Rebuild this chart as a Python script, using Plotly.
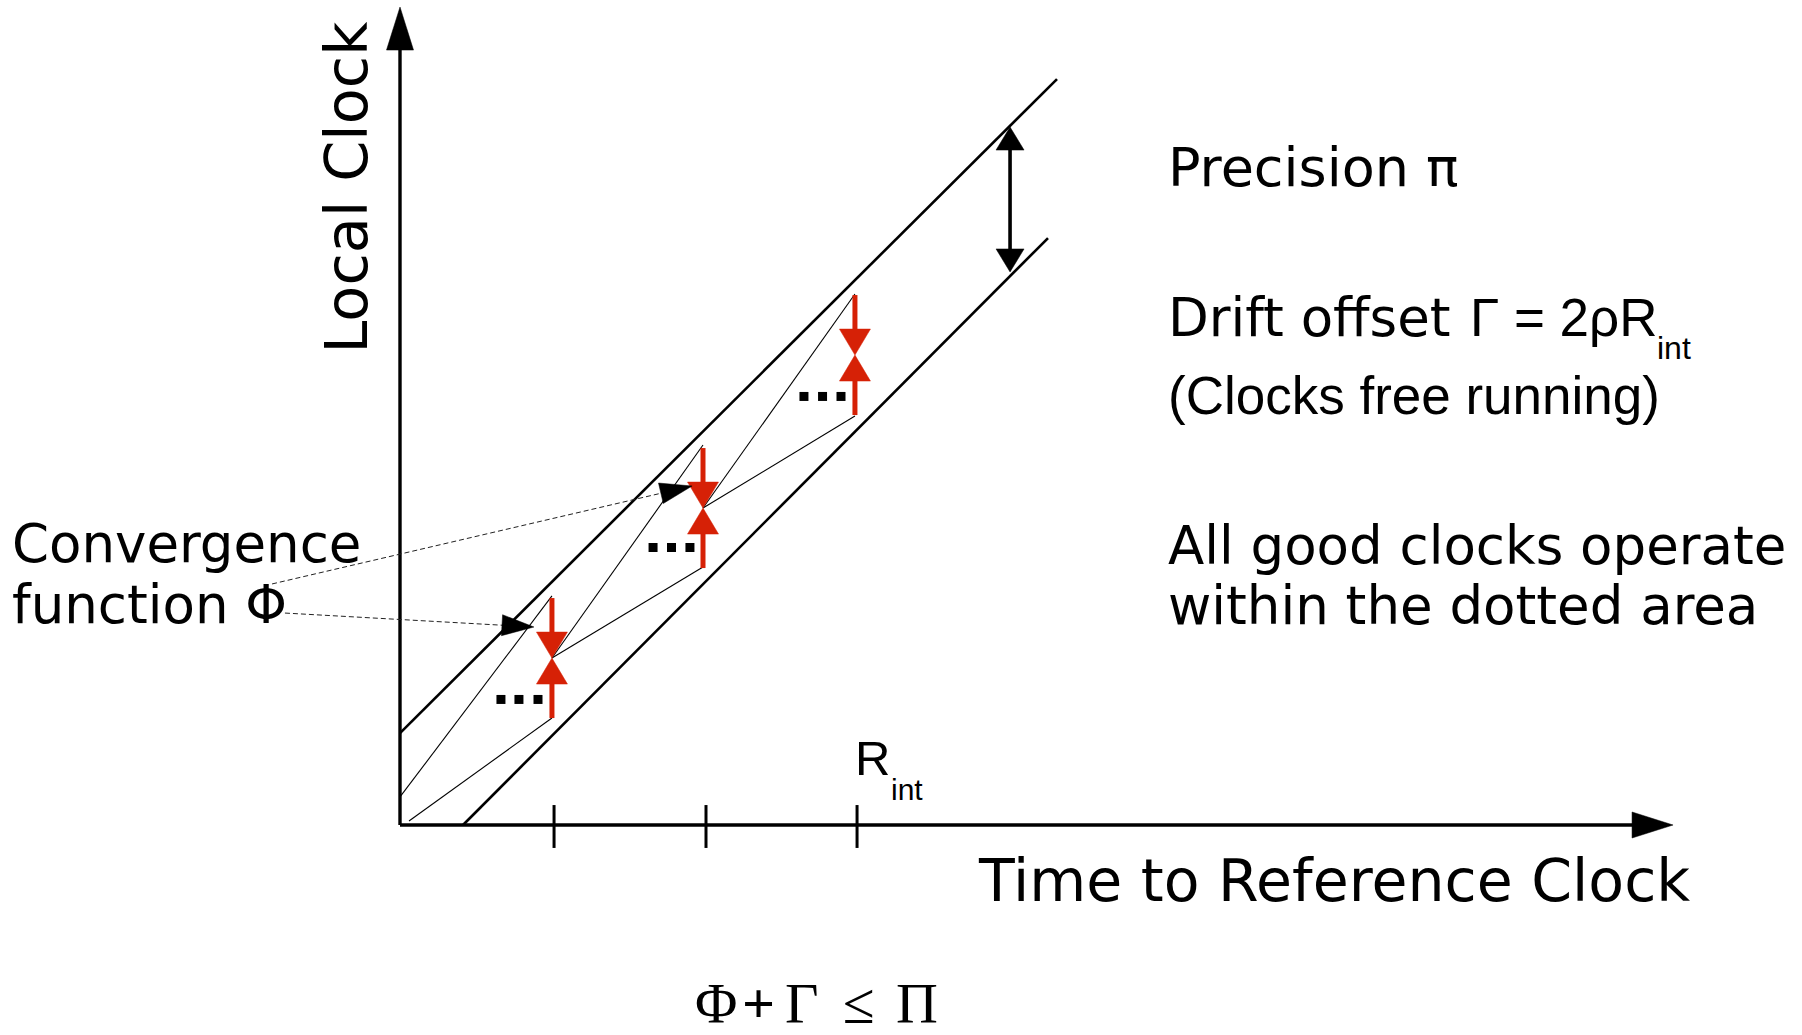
import math
import plotly.graph_objects as go

# ---------------- data (diagram units: 1 unit ~ one resynchronisation interval) -------------
resync_ticks = [1.027, 2.04, 3.047]            # tick marks on the time axis
resync_t = [1.013, 2.02, 3.033]                # instants of resynchronisation (red arrows)
resync_center = [1.113, 2.113, 3.133]          # converged local clock value at each resync
resync_spread = 0.4                            # half spread of the clocks just before resync

band_upper_x = [0.0, 4.38]
band_upper_y = [0.613, 4.973]
band_lower_x = [0.42, 4.32]
band_lower_y = [0.0, 3.913]

fast_clock_x = [0.0, 1.013, None, 1.013, 2.02, None, 2.02, 3.033]
fast_clock_y = [0.187, 1.527, None, 1.113, 2.533, None, 2.113, 3.54]
slow_clock_x = [0.06, 1.013, None, 1.013, 2.02, None, 2.02, 3.033]
slow_clock_y = [0.027, 0.713, None, 1.113, 1.72, None, 2.113, 2.727]

dots_x = [0.673, 0.793, 0.92, 1.687, 1.81, 1.933, 2.693, 2.817, 2.94]
dots_y = [0.837, 0.837, 0.837, 1.85, 1.85, 1.85, 2.857, 2.857, 2.857]

precision_x = 4.067
precision_y = [3.687, 4.653]

time_axis_end = 8.487
clock_axis_end = 5.453

conv_start_x = [-0.853, -0.767]
conv_start_y = [1.607, 1.413]
conv_tip_x = [1.947, 0.893]
conv_tip_y = [2.26, 1.32]

tick_low, tick_high = -0.153, 0.133

formula_glyphs = ["Φ", "<b>+</b>", "Γ", "≤", "Π"]

# ---------------- geometry helpers ----------------
W, H = 1802, 1035
OX, OY, U = 400, 825, 150.0   # pixel origin of the axes and pixels per unit


def X(px):
    return (px - OX) / U


def Y(py):
    return (OY - py) / U


RED = "#d62106"
fig = go.Figure()


def seg(xs, ys, color="black", width=1.0, dash=None):
    fig.add_trace(go.Scatter(x=xs, y=ys, mode="lines",
                             line=dict(color=color, width=width, dash=dash),
                             hoverinfo="skip", showlegend=False))


def head(tx, ty, ang, length_px, width_px, color="black"):
    a = math.radians(ang)
    L = length_px / U
    w = width_px / U / 2
    bx, by = tx - L * math.cos(a), ty - L * math.sin(a)
    nx, ny = -math.sin(a), math.cos(a)
    fig.add_trace(go.Scatter(x=[tx, bx + w * nx, bx - w * nx, tx],
                             y=[ty, by + w * ny, by - w * ny, ty],
                             mode="lines", fill="toself", fillcolor=color,
                             line=dict(color=color, width=0.5),
                             hoverinfo="skip", showlegend=False))


# axes with arrows
seg([0, 0], [0, clock_axis_end - 40 / U], width=3.4)
head(0, clock_axis_end, 90, 43, 27)
seg([0, time_axis_end - 38 / U], [0, 0], width=3.4)
head(time_axis_end, 0, 0, 41, 26)
for t in resync_ticks:
    seg([t, t], [tick_low, tick_high], width=3)

# bounds of the good-clock band
seg(band_upper_x, band_upper_y, width=2.6)
seg(band_lower_x, band_lower_y, width=2.6)

# free running clocks
seg(fast_clock_x, fast_clock_y, width=1.1)
seg(slow_clock_x, slow_clock_y, width=1.1)

# precision arrow
hl = 23 / U
seg([precision_x, precision_x], [precision_y[0] + hl - 0.01, precision_y[1] - hl + 0.01], width=3.6)
head(precision_x, precision_y[1], 90, 23, 28)
head(precision_x, precision_y[0], -90, 23, 28)

# resynchronisation arrows (red)
rh = 26 / U
for t, c in zip(resync_t, resync_center):
    seg([t, t], [c + resync_spread, c + rh - 0.01], color=RED, width=5)
    seg([t, t], [c - rh + 0.01, c - resync_spread], color=RED, width=5)
    head(t, c, -90, 26, 31, RED)
    head(t, c, 90, 26, 31, RED)

# dots "..."
fig.add_trace(go.Scatter(x=dots_x, y=dots_y, mode="markers",
                         marker=dict(symbol="square", size=9, color="black", line=dict(width=0)),
                         hoverinfo="skip", showlegend=False))

# convergence function leader lines
for sx, sy, tx, ty in zip(conv_start_x, conv_start_y, conv_tip_x, conv_tip_y):
    ang = math.degrees(math.atan2(ty - sy, tx - sx))
    a = math.radians(ang)
    bx, by = tx - 32 / U * math.cos(a), ty - 32 / U * math.sin(a)
    seg([sx, bx], [sy, by], color="#222222", width=1.0, dash="5px,3px")
    head(tx, ty, ang, 32, 21)

# ---------------- text ----------------
KF = {"DejaVu Sans": 0.346, "Liberation Sans": 0.3465, "Liberation Serif": 0.3375}
annots = []


def ann(text, x_px, base_px, size, fam="DejaVu Sans", xanchor="left", pad=1):
    yc = base_px - KF[fam] * size
    annots.append(dict(text=text, x=X(x_px), y=Y(yc), xref="x", yref="y",
                       xanchor=xanchor, yanchor="middle", showarrow=False, borderpad=pad,
                       font=dict(family=fam, size=size, color="black")))


ann("Precision π", 1166, 186, 54)
ann("Drift offset", 1166, 336, 53)
ann("Γ = 2ρR", 1468, 336, 53, "Liberation Sans")
ann("int", 1655, 359, 32, "Liberation Sans")
ann("(Clocks free running)", 1166, 414, 53, "Liberation Sans")
ann("All good clocks operate", 1166, 564, 53)
ann("within the dotted area", 1166, 624, 53)
ann("Convergence", 10, 562, 53)
ann("function Φ", 10, 623, 53)
ann("Time to Reference Clock", 976, 901, 58.5)
ann("R", 853, 775, 49, "Liberation Sans")
ann("int", 889, 800, 30, "Liberation Sans")
for g, cx in zip(formula_glyphs, [716, 758, 802, 859, 917]):
    ann(g, cx, 1023, 58, "Liberation Serif", xanchor="center", pad=0)
annots.append(dict(text="Local Clock", x=X(346), y=Y(187.5), xref="x", yref="y",
                   xanchor="center", yanchor="middle", textangle=-90, showarrow=False,
                   font=dict(family="DejaVu Sans", size=59, color="black")))

fig.update_layout(
    width=W, height=H, margin=dict(l=0, r=0, t=0, b=0, pad=0),
    paper_bgcolor="white", plot_bgcolor="white", showlegend=False,
    xaxis=dict(range=[X(0), X(W)], visible=False, fixedrange=True),
    yaxis=dict(range=[Y(H), Y(0)], visible=False, fixedrange=True),
    annotations=annots,
)

fig.write_html("out.html", config={"displayModeBar": False},
               post_script="document.body.style.margin='0px';document.body.style.overflow='hidden';")
